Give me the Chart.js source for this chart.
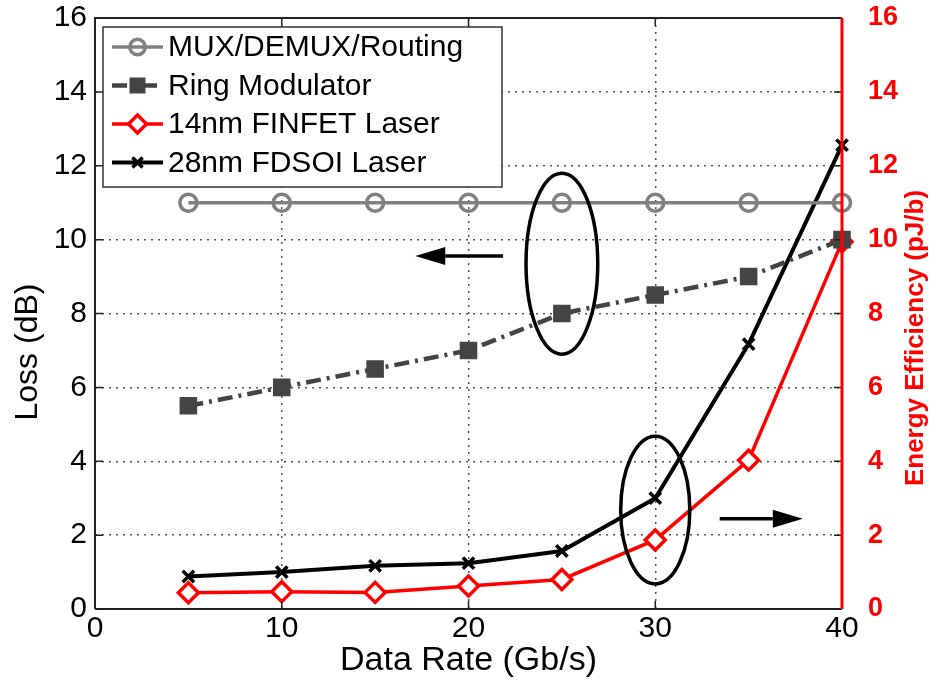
<!DOCTYPE html>
<html>
<head>
<meta charset="UTF-8" />
<title>Loss and energy efficiency vs data rate</title>
<script src="https://cdn.jsdelivr.net/npm/chart.js@4"></script>
<style>
  body { margin: 0; background: #fff; }
  canvas { display: block; }
</style>
</head>
<body>
<canvas id="c" width="934" height="687"></canvas>
<script>
// data
const dataRate = [5, 10, 15, 20, 25, 30, 35, 40];
const muxLoss = [11, 11, 11, 11, 11, 11, 11, 11];
const ringLoss = [5.5, 6.0, 6.5, 7.0, 8.0, 8.5, 9.0, 10.0];
const finfetEE = [0.44, 0.47, 0.45, 0.62, 0.80, 1.87, 4.03, 9.94];
const fdsoiEE = [0.88, 1.0, 1.17, 1.24, 1.57, 3.0, 7.17, 12.56];
const seriesNames = ["MUX/DEMUX/Routing", "Ring Modulator", "14nm FINFET Laser", "28nm FDSOI Laser"];
const xTicks = [0, 10, 20, 30, 40];
const yTicks = [0, 2, 4, 6, 8, 10, 12, 14, 16];
const leftTitle = "Loss (dB)";
const rightTitle = "Energy Efficiency (pJ/b)";

// ellipses and arrows, in data units
const ellipses = [
  { x: 25, y: 9.35, rx: 1.92, ry: 2.45 },
  { x: 30, y: 2.68, rx: 1.85, ry: 2.0 }
];
const arrows = [
  { x0: 21.85, x1: 17.15, y: 9.56 },
  { x0: 33.45, x1: 37.9, y: 2.44 }
];

const FONT = "'Liberation Sans', Arial, sans-serif";
const toXY = (ys) => ys.map((v, i) => ({ x: dataRate[i], y: v }));

const datasets = [
  {
    label: seriesNames[0], data: toXY(muxLoss), yAxisID: "y",
    borderColor: "#808080", borderWidth: 3.5,
    pointStyle: "circle", pointRadius: 8.5, pointBorderWidth: 3.5,
    pointBackgroundColor: "rgba(0,0,0,0)", pointBorderColor: "#808080"
  },
  {
    label: seriesNames[1], data: toXY(ringLoss), yAxisID: "y",
    borderColor: "#444", borderWidth: 4.5, borderDash: [15, 6, 3, 6],
    pointStyle: "rect", pointRadius: 11, pointBorderWidth: 2,
    pointBackgroundColor: "#444", pointBorderColor: "#444"
  },
  {
    label: seriesNames[2], data: toXY(finfetEE), yAxisID: "y1",
    borderColor: "#ff0000", borderWidth: 3.5,
    pointStyle: "rectRot", pointRadius: 10, pointBorderWidth: 3.5,
    pointBackgroundColor: "#fff", pointBorderColor: "#ff0000"
  },
  {
    label: seriesNames[3], data: toXY(fdsoiEE), yAxisID: "y1",
    borderColor: "#000", borderWidth: 4,
    pointStyle: "crossRot", pointRadius: 8, pointBorderWidth: 3.5,
    pointBackgroundColor: "#000", pointBorderColor: "#000"
  }
];

// frame, inward ticks, y titles, legend box and the hand-drawn notes
const decorations = {
  id: "decorations",
  afterDatasetsDraw(chart) {
    const { ctx, scales: { x, y } } = chart;
    ctx.save();
    ctx.strokeStyle = "#000";
    ctx.fillStyle = "#000";
    ctx.lineWidth = 3.5;
    ellipses.forEach((e) => {
      const cx = x.getPixelForValue(e.x), cy = y.getPixelForValue(e.y);
      const rx = x.getPixelForValue(e.x + e.rx) - cx;
      const ry = cy - y.getPixelForValue(e.y + e.ry);
      ctx.beginPath();
      ctx.ellipse(cx, cy, rx, ry, 0, 0, Math.PI * 2);
      ctx.stroke();
    });
    arrows.forEach((a) => {
      const p0 = x.getPixelForValue(a.x0), p1 = x.getPixelForValue(a.x1);
      const py = y.getPixelForValue(a.y);
      const dir = Math.sign(p1 - p0);
      const head = 30;
      ctx.beginPath();
      ctx.moveTo(p0, py);
      ctx.lineTo(p1 - dir * head, py);
      ctx.stroke();
      ctx.beginPath();
      ctx.moveTo(p1, py);
      ctx.lineTo(p1 - dir * head, py - 9);
      ctx.lineTo(p1 - dir * head, py + 9);
      ctx.closePath();
      ctx.fill();
    });
    ctx.restore();
  },
  afterDraw(chart) {
    const { ctx, chartArea: a, scales: { x, y } } = chart;
    ctx.save();
    // frame
    ctx.strokeStyle = "#222";
    ctx.lineWidth = 2;
    ctx.beginPath();
    ctx.moveTo(a.left, a.bottom);
    ctx.lineTo(a.left, a.top);
    ctx.lineTo(a.right, a.top);
    ctx.moveTo(a.left, a.bottom);
    ctx.lineTo(a.right, a.bottom);
    ctx.stroke();
    // inward ticks
    ctx.lineWidth = 1.5;
    ctx.beginPath();
    xTicks.forEach((t) => {
      const px = x.getPixelForValue(t);
      ctx.moveTo(px, a.bottom); ctx.lineTo(px, a.bottom - 8);
      ctx.moveTo(px, a.top); ctx.lineTo(px, a.top + 8);
    });
    yTicks.forEach((t) => {
      const py = y.getPixelForValue(t);
      ctx.moveTo(a.left, py); ctx.lineTo(a.left + 8, py);
      ctx.moveTo(a.right, py); ctx.lineTo(a.right - 8, py);
    });
    ctx.stroke();
    // right axis in red
    ctx.strokeStyle = "#ff0000";
    ctx.lineWidth = 3;
    ctx.beginPath();
    ctx.moveTo(a.right, a.top);
    ctx.lineTo(a.right, a.bottom);
    ctx.stroke();

    // y axis titles, both reading upward
    ctx.textAlign = "center";
    ctx.textBaseline = "middle";
    ctx.save();
    ctx.translate(28, 352);
    ctx.rotate(-Math.PI / 2);
    ctx.font = "32px " + FONT;
    ctx.fillStyle = "#000";
    ctx.fillText(leftTitle, 0, 0);
    ctx.restore();
    ctx.save();
    ctx.translate(916, 338);
    ctx.rotate(-Math.PI / 2);
    ctx.font = "bold 26px " + FONT;
    ctx.fillStyle = "#ff0000";
    ctx.fillText(rightTitle, 0, 0);
    ctx.restore();

    // legend
    const lx = 103, ly = 27, lw = 399, lh = 160;
    ctx.textAlign = "left";
    ctx.fillStyle = "#fff";
    ctx.fillRect(lx, ly, lw, lh);
    ctx.strokeStyle = "#333";
    ctx.lineWidth = 1.5;
    ctx.strokeRect(lx, ly, lw, lh);
    ctx.font = "30px " + FONT;
    chart.data.datasets.forEach((ds, i) => {
      const ry = ly + 20 + i * 38.5;
      ctx.save();
      ctx.strokeStyle = ds.borderColor;
      ctx.lineWidth = ds.borderWidth;
      ctx.setLineDash(ds.borderDash || []);
      ctx.beginPath();
      ctx.moveTo(112, ry);
      ctx.lineTo(163, ry);
      ctx.stroke();
      ctx.setLineDash([]);
      ctx.fillStyle = ds.pointBackgroundColor;
      ctx.strokeStyle = ds.pointBorderColor;
      ctx.lineWidth = ds.pointBorderWidth;
      Chart.helpers.drawPoint(ctx, {
        pointStyle: ds.pointStyle, radius: ds.pointRadius * 0.9,
        rotation: 0, borderWidth: ds.pointBorderWidth
      }, 137.5, ry);
      ctx.restore();
      ctx.fillStyle = "#000";
      ctx.fillText(ds.label, 168, ry + 1);
    });
    ctx.restore();
  }
};

const grid = { color: "#555", lineWidth: 1.5, drawTicks: false };
const border = { display: false, dash: [2, 5] };
const noPad = (s) => { s.paddingTop = 0; s.paddingBottom = 0; s.paddingLeft = 0; s.paddingRight = 0; };

new Chart(document.getElementById("c"), {
  type: "line",
  data: { datasets },
  plugins: [decorations],
  options: {
    responsive: false,
    devicePixelRatio: 1,
    animation: false,
    layout: { padding: { top: 18, left: 0, right: 0, bottom: 0 } },
    elements: { line: { tension: 0, fill: false } },
    datasets: { line: { clip: false } },
    plugins: { legend: { display: false }, tooltip: { enabled: false } },
    scales: {
      x: {
        type: "linear", min: 0, max: 40,
        afterBuildTicks: (s) => { s.ticks = xTicks.map((v) => ({ value: v })); },
        afterFit: (s) => { s.height = 78; noPad(s); },
        grid, border,
        ticks: { color: "#000", padding: 2, font: { family: FONT, size: 30 } },
        title: {
          display: true, text: "Data Rate (Gb/s)", color: "#000",
          padding: { top: 0, bottom: 6 }, font: { family: FONT, size: 34 }
        }
      },
      y: {
        position: "left", min: 0, max: 16,
        afterBuildTicks: (s) => { s.ticks = yTicks.map((v) => ({ value: v })); },
        afterFit: (s) => { s.width = 95; noPad(s); },
        grid, border,
        ticks: { color: "#000", padding: 8, font: { family: FONT, size: 30 } }
      },
      y1: {
        position: "right", min: 0, max: 16,
        afterBuildTicks: (s) => { s.ticks = yTicks.map((v) => ({ value: v })); },
        afterFit: (s) => { s.width = 92; noPad(s); },
        grid: { display: false, drawTicks: false },
        border: { display: false },
        ticks: { color: "#ff0000", padding: 26, font: { family: FONT, size: 27, weight: "bold" } }
      }
    }
  }
});
</script>
</body>
</html>
